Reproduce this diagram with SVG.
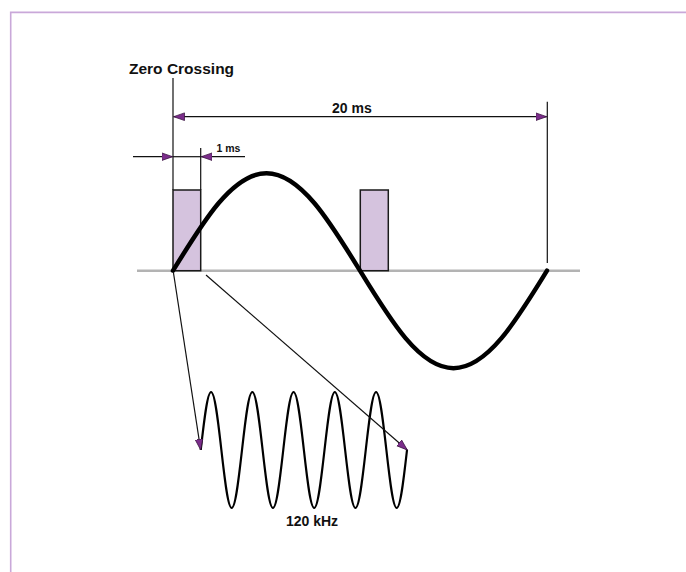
<svg xmlns="http://www.w3.org/2000/svg" width="686" height="572" viewBox="0 0 686 572">
  <style>
    .lbl { font-family: "Liberation Sans", Arial, sans-serif; font-weight: bold; fill: #111; }
    .thin { stroke: #111; stroke-width: 1.2; fill: none; }
    .pulse { fill: #d5c3de; stroke: #1a1a1a; stroke-width: 1.5; }
    .frame { stroke: #c9a8d9; stroke-width: 1.6; fill: none; }
  </style>
  <defs>
    <marker id="ah" markerUnits="userSpaceOnUse" markerWidth="12" markerHeight="9" refX="10" refY="3.5" orient="auto-start-reverse" viewBox="0 0 11 7">
      <path d="M0,0 L10,3.5 L0,7 z" fill="#7b2d8b" stroke="#3a1540" stroke-width="0.7"/>
    </marker>
  </defs>
  <rect width="686" height="572" fill="#ffffff"/>
  <g id="frame">
    <path class="frame" d="M10.7,572 V12.4 H686"/>
  </g>
  <g id="axis">
    <line x1="137" y1="270.7" x2="580" y2="270.7" stroke="#b3b3b3" stroke-width="2.5"/>
  </g>
  <g id="pulse1">
    <rect class="pulse" x="173" y="190" width="27.7" height="80.7"/>
  </g>
  <g id="pulse2">
    <rect class="pulse" x="360.3" y="190" width="28" height="80.7"/>
  </g>
  <g id="mains-wave">
    <path d="M173,270.7 C203.5,220.8 232.7,173.2 266.5,173.2 C300.3,173.2 329.5,220.8 360,270.7 C390.5,320.6 419.7,368.2 453.5,368.2 C487.3,368.2 516.5,320.6 547,270.7" fill="none" stroke="#000" stroke-width="4.5" stroke-linecap="round"/>
  </g>
  <g id="carrier-wave">
    <path d="M200.75,450 c3.363,-29.7 6.58,-58 10.313,-58 c3.733,0 6.95,28.3 10.313,58 c3.363,29.7 6.58,58 10.313,58 c3.733,0 6.95,-28.3 10.313,-58 c3.363,-29.7 6.58,-58 10.313,-58 c3.733,0 6.95,28.3 10.313,58 c3.363,29.7 6.58,58 10.313,58 c3.733,0 6.95,-28.3 10.313,-58 c3.363,-29.7 6.58,-58 10.313,-58 c3.733,0 6.95,28.3 10.313,58 c3.363,29.7 6.58,58 10.313,58 c3.733,0 6.95,-28.3 10.313,-58 c3.363,-29.7 6.58,-58 10.313,-58 c3.733,0 6.95,28.3 10.313,58 c3.363,29.7 6.58,58 10.313,58 c3.733,0 6.95,-28.3 10.313,-58 c3.363,-29.7 6.58,-58 10.313,-58 c3.733,0 6.95,28.3 10.313,58 c3.363,29.7 6.58,58 10.313,58 c3.733,0 6.95,-28.3 10.313,-58" fill="none" stroke="#000" stroke-width="2.2"/>
  </g>
  <g id="labels">
    <text class="lbl" x="129" y="74" font-size="15.5">Zero Crossing</text>
    <text class="lbl" x="332" y="113.3" font-size="14">20 ms</text>
    <text class="lbl" x="216.5" y="151.7" font-size="10.5">1 ms</text>
    <text class="lbl" x="312" y="526" font-size="14" text-anchor="middle">120 kHz</text>
  </g>
  <g id="connectors">
    <line class="thin" x1="173" y1="78" x2="173" y2="190"/>
    <line class="thin" x1="547.3" y1="101.7" x2="547.3" y2="263"/>
    <line class="thin" x1="200.7" y1="148" x2="200.7" y2="190"/>
    <line class="thin" x1="173.6" y1="116.7" x2="546.7" y2="116.7" marker-start="url(#ah)" marker-end="url(#ah)"/>
    <line class="thin" x1="133" y1="156.7" x2="172.6" y2="156.7" marker-end="url(#ah)"/>
    <line class="thin" x1="173" y1="156.7" x2="200.7" y2="156.7"/>
    <line class="thin" x1="245" y1="156.7" x2="201.3" y2="156.7" marker-end="url(#ah)"/>
    <line class="thin" x1="173.5" y1="273" x2="200.7" y2="450" marker-end="url(#ah)"/>
    <line class="thin" x1="206" y1="275" x2="407.3" y2="450" marker-end="url(#ah)"/>
  </g>
</svg>
